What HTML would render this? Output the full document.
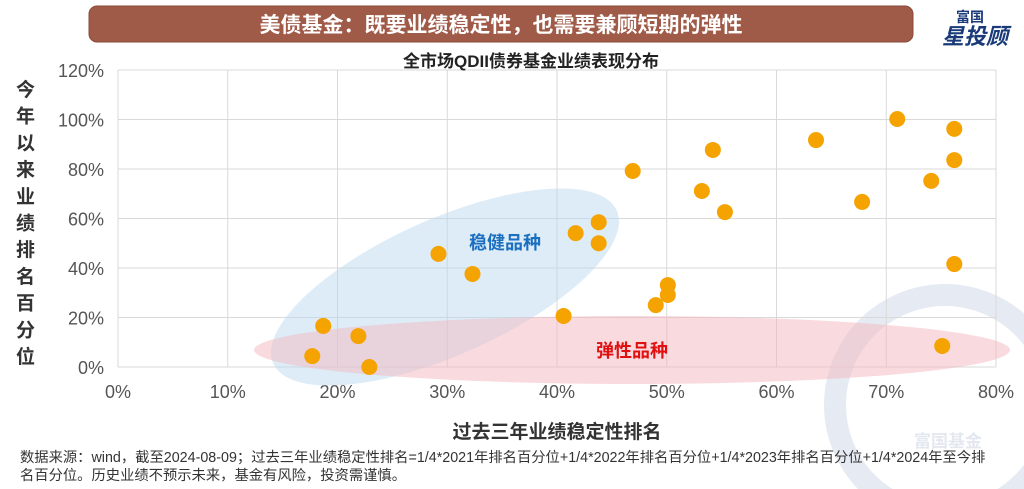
<!DOCTYPE html>
<html><head><meta charset="utf-8"><style>
html,body{margin:0;width:1024px;height:489px;background:#fff;overflow:hidden;font-family:"Liberation Sans","Noto Sans CJK SC",sans-serif;}
svg{display:block;overflow:hidden}
</style></head><body>
<svg width="1024" height="489" style="position:absolute;left:0;top:0">
<circle cx="945" cy="405" r="110" fill="none" stroke="#e6ebf3" stroke-width="22"/>
<text x="948" y="447" font-size="17" font-weight="bold" fill="#e3e8f0" text-anchor="middle">富国基金</text>
<rect x="89" y="6" width="824" height="36" rx="8" fill="#a05a48" stroke="#8a4a3a"/>
<text x="501" y="32" font-size="21" font-weight="bold" fill="#fff" text-anchor="middle">美债基金：既要业绩稳定性，也需要兼顾短期的弹性</text>
<text x="970" y="22" font-size="14" font-weight="bold" fill="#1a3a7a" text-anchor="middle">富国</text>
<text x="975" y="44" font-size="22" font-weight="bold" fill="#1a3a7a" text-anchor="middle" font-style="italic">星投顾</text>
<g id="grid"></g>
<text x="531" y="67" font-size="17" font-weight="bold" fill="#222" text-anchor="middle">全市场QDII债券基金业绩表现分布</text>
<ellipse cx="445" cy="287" rx="188" ry="68" transform="rotate(-24 445 287)" fill="#bcd9ee" fill-opacity="0.5"/>
<ellipse cx="632" cy="350" rx="378" ry="34" fill="#f4b8c0" fill-opacity="0.5"/>
<text x="505" y="249" font-size="18" font-weight="bold" fill="#1a6fc0" text-anchor="middle">稳健品种</text>
<text x="632" y="357" font-size="18" font-weight="bold" fill="#e01010" text-anchor="middle">弹性品种</text>
<g id="pts"></g>
<text x="557" y="438" font-size="19" font-weight="bold" fill="#333" text-anchor="middle">过去三年业绩稳定性排名</text>
<text font-size="19" font-weight="bold" fill="#333">
<tspan x="16" y="96">今</tspan><tspan x="16" y="122.7">年</tspan><tspan x="16" y="149.4">以</tspan><tspan x="16" y="176.1">来</tspan><tspan x="16" y="202.8">业</tspan><tspan x="16" y="229.5">绩</tspan><tspan x="16" y="256.2">排</tspan><tspan x="16" y="282.9">名</tspan><tspan x="16" y="309.6">百</tspan><tspan x="16" y="336.3">分</tspan><tspan x="16" y="363">位</tspan></text>
<text font-size="14.3" fill="#333"><tspan x="20" y="462">数据来源：wind，截至2024-08-09；过去三年业绩稳定性排名=1/4*2021年排名百分位+1/4*2022年排名百分位+1/4*2023年排名百分位+1/4*2024年至今排</tspan><tspan x="20" y="480">名百分位。历史业绩不预示未来，基金有风险，投资需谨慎。</tspan></text>
</svg>
<script>
const xTicks=[0,10,20,30,40,50,60,70,80];
const yTicks=[0,20,40,60,80,100,120];
const xVals=[22.9,17.7,18.7,21.9,29.2,32.3,40.6,41.7,43.8,43.8,46.9,49.0,50.1,50.1,53.2,54.2,55.3,63.6,67.8,71.0,74.1,75.1,76.2,76.2,76.2];
const yVals=[0,4.4,16.6,12.5,45.7,37.6,20.6,54.1,58.5,50.0,79.2,25.0,33.1,29.1,71.1,87.7,62.6,91.7,66.7,100.2,75.2,8.5,96.2,83.6,41.6];
const X=v=>118+v*(996-118)/80, Y=v=>367-v*(367-70)/120;
const NS="http://www.w3.org/2000/svg";
const g=document.getElementById('grid'), p=document.getElementById('pts');
function mk(t,a,par){const e=document.createElementNS(NS,t);for(const k in a)e.setAttribute(k,a[k]);par.appendChild(e);return e;}
xTicks.forEach(v=>{const l=mk('line',{x1:X(v),x2:X(v),y1:70,y2:367,stroke:'#d9d9d9'},g);


const t=mk('text',{x:X(v),y:398,'font-size':18,fill:'#555','text-anchor':'middle'},g);t.textContent=v+'%';

});
yTicks.forEach(v=>{const l=mk('line',{x1:118,x2:996,y1:Y(v),y2:Y(v),stroke:'#d9d9d9'},g);


const t=mk('text',{x:104,y:Y(v)+7,'font-size':18,fill:'#555','text-anchor':'end'},g);t.textContent=v+'%';

});
xVals.forEach((v,i)=>{const c=mk('circle',{cx:X(v),cy:Y(yVals[i]),r:8,fill:'#f5a300'},p);

});
</script>
</body></html>
